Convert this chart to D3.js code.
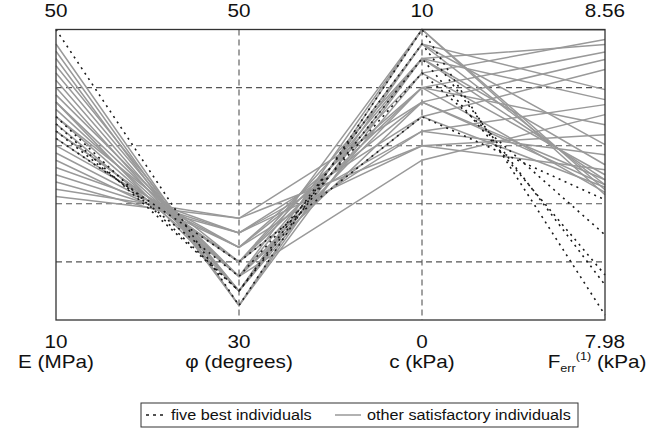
<!DOCTYPE html>
<html>
<head>
<meta charset="utf-8">
<script src="https://cdn.jsdelivr.net/npm/d3@7"></script>
<style>
  body { margin: 0; background: #fff; }
  text { font-family: "Liberation Sans", Arial, sans-serif; fill: #111; }
</style>
</head>
<body>
<script>
var width = 651,
    height = 429;

// axes of the parallel plot
var dims = ["E", "phi", "c", "F"];
var dimMin = [10, 30, 0, 7.98];
var dimMax = [50, 50, 10, 8.56];
var minLabels = ["10", "30", "0", "7.98"];
var maxLabels = ["50", "50", "10", "8.56"];

// five best individuals
var bestE   = [50, 38, 37, 36, 35];
var bestPhi = [31, 32, 32, 33, 34];
var bestC   = [10, 9.5, 9, 8.5, 7];
var bestF   = [7.99, 8.05, 8.07, 8.15, 8.22];

// other satisfactory individuals
var otherE   = [48, 47, 46, 45, 44, 43, 42, 41, 40, 40, 39, 38, 38, 37, 36, 36, 35, 34, 33, 32, 31, 30, 29, 28, 27];
var otherPhi = [31, 31, 31, 32, 32, 32, 32, 33, 33, 32, 33, 33, 34, 33, 34, 34, 34, 35, 35, 35, 36, 36, 36, 37, 37];
var otherC   = [9.5, 10, 9, 10, 9.5, 9, 8.5, 10, 8, 9.5, 9, 7.5, 8.5, 5.5, 8, 9, 7, 8, 6.5, 7.5, 6, 7, 6.5, 6, 7.5];
var otherF   = [8.25, 8.24, 8.42, 8.559, 8.33, 8.26, 8.54, 8.23, 8.515, 8.44, 8.29, 8.50, 8.27, 8.39, 8.235, 8.53, 8.48, 8.37, 8.31, 8.26, 8.35, 8.245, 8.41, 8.28, 8.25];

var pLeft = 56, pRight = 605, pTop = 29.5, pBottom = 320;

var svg = d3.select("body").append("svg")
    .attr("width", width)
    .attr("height", height);

var x = d3.scalePoint().domain(dims).range([pLeft, pRight]);

var y = {};
dims.forEach(function(d, i) {
    y[d] = d3.scaleLinear().domain([dimMin[i], dimMax[i]]).range([pBottom, pTop]);
});

function rows(E, P, C, F) {
    return E.map(function(e, i) {
        return { E: e, phi: P[i], c: C[i], F: F[i] };
    });
}
var best = rows(bestE, bestPhi, bestC, bestF);
var others = rows(otherE, otherPhi, otherC, otherF);

function path(r) {
    return d3.line()(dims.map(function(d) { return [x(d), y[d](r[d])]; }));
}

// grid
var gridVals = d3.range(1, 5).map(function(k) { return 10 + k * 8; });
svg.selectAll(".hgrid")
    .data(gridVals)
    .enter().append("line")
    .attr("x1", pLeft).attr("x2", pRight)
    .attr("y1", function(d) { return y.E(d); })
    .attr("y2", function(d) { return y.E(d); })
    .attr("stroke", "#555")
    .attr("stroke-width", 1.1)
    .attr("stroke-dasharray", "6,4");

svg.selectAll(".vgrid")
    .data(dims.slice(1, 3))
    .enter().append("line")
    .attr("x1", function(d) { return x(d); })
    .attr("x2", function(d) { return x(d); })
    .attr("y1", pTop).attr("y2", pBottom)
    .attr("stroke", "#555")
    .attr("stroke-width", 1.1)
    .attr("stroke-dasharray", "6,4");

svg.selectAll(".other")
    .data(others)
    .enter().append("path")
    .attr("d", path)
    .attr("fill", "none")
    .attr("stroke", "#999")
    .attr("stroke-width", 1.5);

svg.selectAll(".best")
    .data(best)
    .enter().append("path")
    .attr("d", path)
    .attr("fill", "none")
    .attr("stroke", "#1a1a1a")
    .attr("stroke-width", 1.6)
    .attr("stroke-dasharray", "2,4.5");

// frame
svg.append("rect")
    .attr("x", pLeft).attr("y", pTop)
    .attr("width", pRight - pLeft).attr("height", pBottom - pTop)
    .attr("fill", "none")
    .attr("stroke", "#333")
    .attr("stroke-width", 1.3);

function label(xp, yp, size, sx) {
    return svg.append("text")
        .attr("transform", "translate(" + xp + "," + yp + ") scale(" + sx + ",1)")
        .attr("text-anchor", "middle")
        .style("font-size", size + "px");
}

dims.forEach(function(d, i) {
    label(x(d), 17, 18, 1.15).text(maxLabels[i]);
    label(x(d), 348, 18, 1.15).text(minLabels[i]);
});

label(x("E"), 368, 18, 1.15).text("E (MPa)");
label(x("phi"), 368, 18, 1.15).text("\u03c6 (degrees)");
label(x("c"), 368, 18, 1.15).text("c (kPa)");

var f = label(x("F") - 8, 368, 18, 1.15);
f.append("tspan").text("F");
f.append("tspan").attr("dy", 4).style("font-size", "11px").text("err");
f.append("tspan").attr("dy", -12).style("font-size", "11px").text("(1)");
f.append("tspan").attr("dy", 8).text(" (kPa)");

// legend
var lg = svg.append("g");
lg.append("rect")
    .attr("x", 141).attr("y", 403)
    .attr("width", 437).attr("height", 24)
    .attr("fill", "#fff")
    .attr("stroke", "#333")
    .attr("stroke-width", 1);
lg.append("line")
    .attr("x1", 146).attr("x2", 166)
    .attr("y1", 415).attr("y2", 415)
    .attr("stroke", "#1a1a1a")
    .attr("stroke-width", 1.5)
    .attr("stroke-dasharray", "3,4");
lg.append("text")
    .attr("transform", "translate(171,420) scale(1.12,1)")
    .style("font-size", "14.5px")
    .text("five best individuals");
lg.append("line")
    .attr("x1", 335).attr("x2", 361)
    .attr("y1", 415).attr("y2", 415)
    .attr("stroke", "#999")
    .attr("stroke-width", 1.5);
lg.append("text")
    .attr("transform", "translate(367,420) scale(1.12,1)")
    .style("font-size", "14.5px")
    .text("other satisfactory individuals");
</script>
</body>
</html>
